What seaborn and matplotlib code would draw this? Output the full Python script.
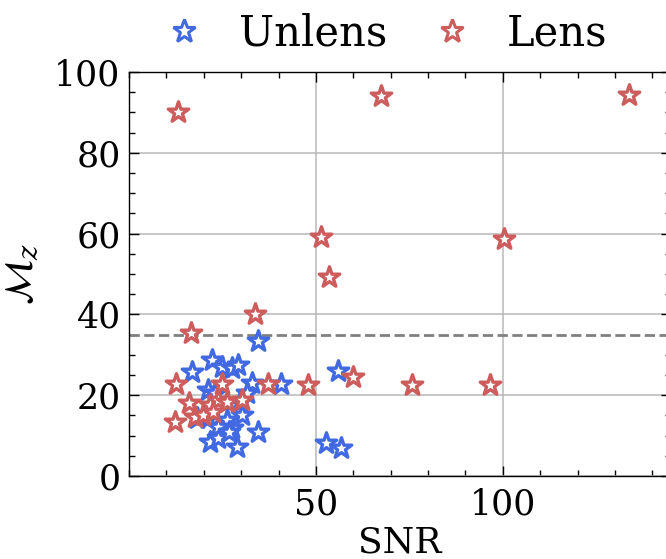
import matplotlib
matplotlib.use("Agg")
import matplotlib.pyplot as plt
from matplotlib.lines import Line2D
from matplotlib.ticker import MultipleLocator, FixedLocator
import seaborn as sns
import pandas as pd

# Unlensed events: SNR and detector-frame chirp mass
unlens_snr = [22.1, 16.8, 24.8, 27.5, 29.2, 32.8, 40.6, 21.2, 29.7, 30.1,
              27.5, 34.6, 21.7, 23.9, 28.8, 18.1, 21.2, 26.1, 23.9, 34.5,
              52.7, 56.6, 56.0, 26.8, 23.0, 31.5]
unlens_mz = [28.7, 25.8, 27.1, 26.7, 27.5, 22.9, 22.7, 21.3, 18.4, 15.1,
             11.8, 11.0, 8.5, 9.3, 7.1, 14.3, 14.3, 13.9, 12.2, 33.4,
             8.2, 6.9, 26.1, 11.0, 20.5, 20.5]

# Lensed events
lens_snr = [13.0, 67.3, 133.8, 51.3, 100.3, 53.5, 33.7, 16.6, 12.7, 24.8,
            37.2, 47.9, 60.0, 75.6, 96.7, 16.0, 12.3, 17.6, 21.7, 23.9,
            26.1, 30.1, 19.9, 22.5]
lens_mz = [90.2, 94.1, 94.3, 59.2, 58.7, 49.3, 40.1, 35.5, 22.7, 22.7,
           22.7, 22.6, 24.6, 22.5, 22.5, 18.0, 13.4, 14.7, 17.6, 18.8,
           18.4, 18.8, 15.1, 15.9]

x_major = [50, 100]
threshold = 35.0
colors = {"Unlens": "#4169E1", "Lens": "#CD5C5C"}

sns.set_style("ticks")
plt.rcParams["font.family"] = ["DejaVu Serif"]
plt.rcParams["mathtext.fontset"] = "dejavuserif"
plt.rcParams["text.color"] = "black"
plt.rcParams["axes.labelcolor"] = "black"
plt.rcParams["xtick.color"] = "black"
plt.rcParams["ytick.color"] = "black"
plt.rcParams["axes.edgecolor"] = "black"

fig = plt.figure(figsize=(6.66, 5.59), dpi=100)
ax = fig.add_axes([0.1937, 0.1485, 0.8138, 0.7227])

df_u = pd.DataFrame({"SNR": unlens_snr, "Mz": unlens_mz})
df_l = pd.DataFrame({"SNR": lens_snr, "Mz": lens_mz})

for df, name in [(df_u, "Unlens"), (df_l, "Lens")]:
    n_before = len(ax.collections)
    sns.scatterplot(data=df, x="SNR", y="Mz", marker="*", s=240,
                    color=colors[name], linewidth=2.4, ax=ax, legend=False,
                    zorder=3)
    coll = ax.collections[n_before]
    coll.set_facecolor("white")
    coll.set_edgecolor(colors[name])

ax.axhline(threshold, color="gray", ls="--", lw=2.0, zorder=2)

ax.set_xlim(0, 145)
ax.set_ylim(0, 100)
ax.xaxis.set_major_locator(FixedLocator(x_major))
ax.xaxis.set_minor_locator(MultipleLocator(10))
ax.yaxis.set_major_locator(MultipleLocator(20))
ax.yaxis.set_minor_locator(MultipleLocator(5))
ax.grid(True, which="major", color="#b8b8b8", lw=1.1, zorder=0)
ax.set_axisbelow(True)
ax.tick_params(which="both", direction="in", top=True, right=True,
               labelsize=25, width=1.0)
ax.tick_params(which="major", length=7)
ax.tick_params(which="minor", length=4)
ax.tick_params(axis="x", pad=8)
ax.tick_params(axis="y", pad=6)
for sp in ax.spines.values():
    sp.set_linewidth(1.0)

ax.set_xlabel("SNR", fontsize=26, labelpad=3)
ax.set_ylabel(r"$\mathcal{M}_z$", fontsize=28, labelpad=10)

handles = [Line2D([], [], ls="none", marker="*", markersize=17,
                  markerfacecolor="white", markeredgecolor=colors[k],
                  markeredgewidth=2.2, label=k) for k in ["Unlens", "Lens"]]
fig.legend(handles=handles, loc="upper center", bbox_to_anchor=(0.578, 1.045),
           ncol=2, frameon=False, fontsize=30, handlelength=1.0,
           handletextpad=0.82, columnspacing=1.05)

fig.savefig("out.png", dpi=100)
